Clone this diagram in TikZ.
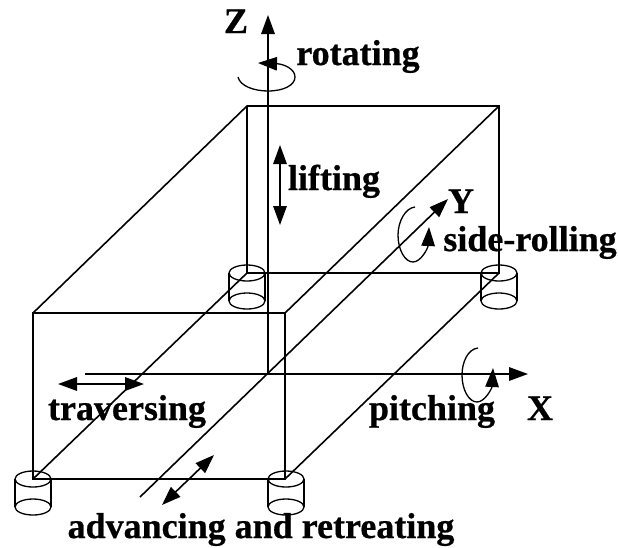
\documentclass[tikz,border=0pt]{standalone}
\usepackage{fontspec}
\setmainfont[BoldFeatures={FakeBold=0.6}]{Liberation Serif}
\usetikzlibrary{
    arrows.meta
}
\tikzstyle{edge} = [
    line width=1.6pt,
    draw=black
]
\tikzstyle{thinedge} = [
    line width=1.3pt,
    draw=black
]
\tikzstyle{arrow} = [
    -{Triangle[length=19pt,width=13.5pt]},
    line width=1.6pt,
    draw=black
]
\tikzstyle{twoway} = [
    {Triangle[length=19pt,width=13.5pt]}-{Triangle[length=19pt,width=13.5pt]},
    line width=1.6pt,
    draw=black
]
\tikzstyle{spin} = [
    -{Triangle[length=19pt,width=13.5pt]},
    line width=1.3pt,
    draw=black
]
\tikzstyle{label} = [
    anchor=base,
    inner sep=0pt,
    font=\fontsize{36}{36}\selectfont\bfseries
]
\begin{document}
\begin{tikzpicture}[x=1pt, y=-1pt]
    \useasboundingbox (0,0) rectangle (618,547);

    % Box corners
    \coordinate (ftl) at (33,313);
    \coordinate (ftr) at (285,313);
    \coordinate (fbl) at (33,479);
    \coordinate (fbr) at (285,479);
    \coordinate (btl) at (247,106);
    \coordinate (btr) at (499,106);
    \coordinate (bbl) at (247,273);
    \coordinate (bbr) at (499,273);

    % Box
    \draw[edge] (ftl) -- (ftr) -- (fbr) -- (fbl) -- cycle;
    \draw[edge] (ftl) -- (btl) -- (btr) -- (bbr) -- (bbl) -- (btl);
    \draw[edge] (ftr) -- (btr);
    \draw[edge] (fbl) -- (bbl);
    \draw[edge] (fbr) -- (bbr);

    % Feet
    \draw[thinedge] (33,479) ellipse (18 and 8);
    \draw[thinedge] (33,507) ellipse (18 and 8);
    \draw[thinedge] (15,479) -- (15,507);
    \draw[thinedge] (51,479) -- (51,507);
    \draw[thinedge] (286,479) ellipse (18 and 8);
    \draw[thinedge] (286,507) ellipse (18 and 8);
    \draw[thinedge] (268,479) -- (268,507);
    \draw[thinedge] (304,479) -- (304,507);
    \draw[thinedge] (247,273) ellipse (18 and 8);
    \draw[thinedge] (247,301) ellipse (18 and 8);
    \draw[thinedge] (229,273) -- (229,301);
    \draw[thinedge] (265,273) -- (265,301);
    \draw[thinedge] (499,273) ellipse (18 and 8);
    \draw[thinedge] (499,301) ellipse (18 and 8);
    \draw[thinedge] (481,273) -- (481,301);
    \draw[thinedge] (517,273) -- (517,301);

    % Axes
    \coordinate (origin) at (268,374);
    \coordinate (zend) at (268,15);
    \coordinate (xstart) at (85,374);
    \coordinate (xend) at (528,374);
    \coordinate (ystart) at (140,497);
    \coordinate (yend) at (448,199);
    \draw[arrow] (origin) -- (zend);
    \draw[arrow] (xstart) -- (xend);
    \draw[arrow] (ystart) -- (yend);

    % Two-way motions
    \coordinate (lifta) at (280,145);
    \coordinate (liftb) at (280,225);
    \coordinate (trava) at (58,384);
    \coordinate (travb) at (144,384);
    \coordinate (adva) at (162,505);
    \coordinate (advb) at (214,455);
    \draw[twoway] (lifta) -- (liftb);
    \draw[twoway] (trava) -- (travb);
    \draw[twoway] (adva) -- (advb);

    % Rotations
    \coordinate (rota) at (238,77);
    \coordinate (rotb) at (258,63);
    \coordinate (sidea) at (415,207);
    \coordinate (sideb) at (429,227);
    \coordinate (pitcha) at (478,348);
    \coordinate (pitchb) at (493,368);
    \draw[spin] (rota) .. controls (240,86) and (254,91) .. (268,91)
        .. controls (284,91) and (295,85) .. (295,77)
        .. controls (295,69) and (284,64) .. (rotb);
    \draw[spin] (sidea) .. controls (405,208) and (398,222) .. (398,235)
        .. controls (398,250) and (405,262) .. (413,262)
        .. controls (421,262) and (428,248) .. (sideb);
    \draw[spin] (pitcha) .. controls (468,349) and (462,362) .. (462,375)
        .. controls (462,390) and (469,402) .. (477,402)
        .. controls (485,402) and (492,388) .. (pitchb);

    % Labels
    \node[label] (zlabel) at (236,33) {Z};
    \node[label] (xlabel) at (540,420) {X};
    \node[label] (ylabel) at (461,213) {Y};
    \node[label] (rotating) at (358,65) {rotating};
    \node[label] (lifting) at (334,190) {lifting};
    \node[label] (siderolling) at (530,251) {side-rolling};
    \node[label] (traversing) at (127,420) {traversing};
    \node[label] (pitching) at (432,420) {pitching};
    \node[label] (advancing) at (261,538) {advancing and retreating};
\end{tikzpicture}
\end{document}
